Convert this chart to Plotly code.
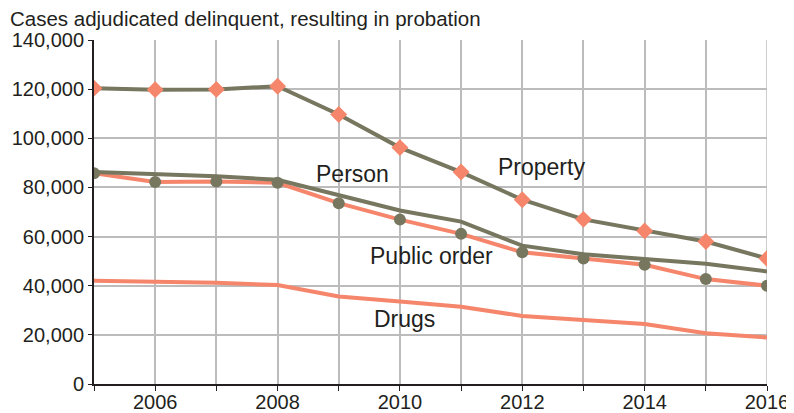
import plotly.graph_objects as go

years = list(range(2005, 2017))
property_cases = [120400, 119800, 119900, 121200, 109700, 96200, 86250, 75000, 67000, 62300, 58000, 51100]
person_cases = [86300, 85600, 84500, 83100, 76700, 70600, 66100, 56300, 52800, 50900, 48900, 45800]
public_order_cases = [85800, 82200, 82400, 81900, 73600, 66900, 61100, 53600, 51100, 48500, 42700, 40000]
drugs_cases = [42000, 41600, 41200, 40300, 35600, 33600, 31400, 27700, 26000, 24400, 20700, 18900]

x_tick_vals = [2006, 2008, 2010, 2012, 2014, 2016]
y_tick_vals = [0, 20000, 40000, 60000, 80000, 100000, 120000, 140000]

GRAY = "#77765f"
ORANGE = "#f5866b"
TEXT = "#231f20"
GRID = "#bcbcbc"
FONT = "Liberation Sans, Arial, sans-serif"

# the page body keeps its default 8px margin, so the figure is sized to fill the rest
fig = go.Figure()
fig.add_trace(go.Scatter(x=years, y=drugs_cases, mode="lines", line=dict(color=ORANGE, width=4)))
fig.add_trace(go.Scatter(x=years, y=public_order_cases, mode="lines", line=dict(color=ORANGE, width=4)))
fig.add_trace(go.Scatter(x=years, y=person_cases, mode="lines", line=dict(color=GRAY, width=4)))
fig.add_trace(go.Scatter(x=years, y=property_cases, mode="lines", line=dict(color=GRAY, width=4)))
fig.add_trace(go.Scatter(x=years, y=public_order_cases, mode="markers",
                         marker=dict(color=GRAY, size=12, symbol="circle")))
fig.add_trace(go.Scatter(x=years, y=property_cases, mode="markers",
                         marker=dict(color=ORANGE, size=13, symbol="diamond")))

labels = [
    ("Person", 2009.22, 85300),
    ("Property", 2012.32, 88200),
    ("Public order", 2010.52, 52200),
    ("Drugs", 2010.08, 26500),
]
for text, lx, ly in labels:
    fig.add_annotation(x=lx, y=ly, text=text, showarrow=False,
                       font=dict(family=FONT, size=23, color=TEXT))

fig.update_layout(
    width=786,
    height=405,
    margin=dict(l=86, r=27, t=32, b=29),
    plot_bgcolor="white",
    paper_bgcolor="white",
    showlegend=False,
    font=dict(family=FONT, size=20, color=TEXT),
    title=dict(text="Cases adjudicated delinquent, resulting in probation",
               x=0.0025, xanchor="left", y=0.973, yanchor="middle",
               font=dict(family=FONT, size=20.5, color=TEXT)),
)
fig.update_xaxes(
    range=[2005, 2016],
    tickvals=x_tick_vals,
    tickfont=dict(family=FONT, size=20, color=TEXT),
    ticklabelstandoff=-6,
    automargin=False,
    showgrid=True, gridcolor=GRID, gridwidth=1.5,
    showline=True, linecolor=TEXT, linewidth=2,
    ticks="outside", ticklen=5, tickcolor=TEXT,
    minor=dict(dtick=1, tick0=2005, showgrid=True, gridcolor=GRID, gridwidth=1.5,
               ticks="outside", ticklen=5, tickcolor=TEXT),
    zeroline=False,
)
fig.update_yaxes(
    range=[0, 140000],
    tickvals=y_tick_vals,
    tickformat=",",
    tickfont=dict(family=FONT, size=20, color=TEXT),
    automargin=False,
    showgrid=True, gridcolor=GRID, gridwidth=1.5,
    showline=True, linecolor=TEXT, linewidth=2,
    ticks="outside", ticklen=4, tickcolor=TEXT,
    zeroline=False,
)
fig.add_shape(type="line", xref="x", yref="paper", x0=2016, x1=2016, y0=0, y1=1,
              line=dict(color=GRID, width=1.5), layer="below")

fig.write_html("out.html")
